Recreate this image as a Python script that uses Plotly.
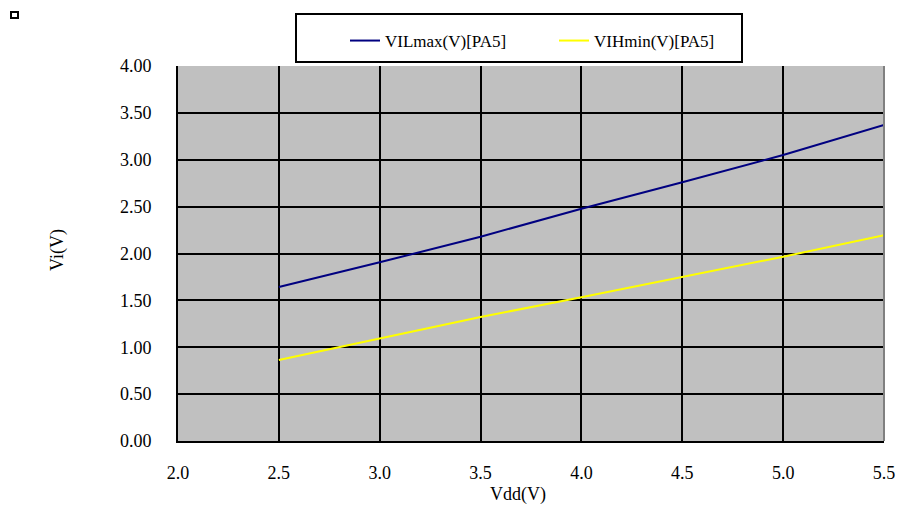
import plotly.graph_objects as go

vdd = [2.5, 3.0, 3.5, 4.0, 4.5, 5.0, 5.5]
vil_max = [1.643, 1.906, 2.179, 2.478, 2.759, 3.051, 3.371]
vih_min = [0.864, 1.095, 1.323, 1.533, 1.746, 1.966, 2.194]

x_ticks = [2.0, 2.5, 3.0, 3.5, 4.0, 4.5, 5.0, 5.5]
y_ticks = [0.0, 0.5, 1.0, 1.5, 2.0, 2.5, 3.0, 3.5, 4.0]

W, H = 898, 507
L, R, T, B = 178, 14, 66, 66
PW, PH = W - L - R, H - T - B


def px(xp):
    return (xp - L) / PW


def py(yp):
    return (H - B - yp) / PH


FONT = "Liberation Serif"

fig = go.Figure()
fig.add_trace(go.Scatter(x=vdd, y=vil_max, mode="lines", name="VILmax(V)[PA5]",
                         line=dict(color="#000080", width=2)))
fig.add_trace(go.Scatter(x=vdd, y=vih_min, mode="lines", name="VIHmin(V)[PA5]",
                         line=dict(color="#ffff00", width=2)))

shapes = [
    # legend frame
    dict(type="rect", xref="paper", yref="paper", x0=px(296), x1=px(742), y0=py(62), y1=py(14),
         line=dict(color="black", width=2), fillcolor="white", layer="below"),
    # small marker square at top-left
    dict(type="rect", xref="paper", yref="paper", x0=px(11), x1=px(18), y0=py(18), y1=py(12),
         line=dict(color="black", width=2), fillcolor="white"),
    # right plot border (gray)
    dict(type="line", xref="paper", yref="paper", x0=1, x1=1, y0=0, y1=1,
         line=dict(color="#808080", width=2)),
]

fig.update_layout(
    width=W, height=H, autosize=False,
    margin=dict(l=L, r=R, t=T, b=B, pad=0, autoexpand=False),
    paper_bgcolor="white",
    plot_bgcolor="#c0c0c0",
    font=dict(family=FONT, size=17, color="black"),
    showlegend=True,
    legend=dict(orientation="h", x=px(345), xanchor="left", y=py(41), yanchor="middle",
                bgcolor="rgba(0,0,0,0)", borderwidth=0, entrywidth=164,
                font=dict(family=FONT, size=17, color="black")),
    shapes=shapes,
    annotations=[
        dict(text="Vdd(V)", xref="paper", yref="paper", x=px(518), y=py(494),
             xanchor="center", yanchor="middle", showarrow=False,
             font=dict(family=FONT, size=18, color="black")),
        dict(text="Vi(V)", xref="paper", yref="paper", x=px(57), y=py(250),
             xanchor="center", yanchor="middle", showarrow=False, textangle=-90,
             font=dict(family=FONT, size=18, color="black")),
    ],
)

fig.update_xaxes(range=[2.0, 5.5], tickvals=x_ticks, tickformat=".1f",
                 showgrid=True, gridcolor="black", gridwidth=2,
                 showline=True, linecolor="black", linewidth=2,
                 zeroline=False, ticks="", ticklabelstandoff=14,
                 ticklabeloverflow="allow", automargin=False,
                 tickfont=dict(family=FONT, size=18, color="black"))
fig.update_yaxes(range=[0.0, 4.0], tickvals=y_ticks, tickformat=".2f",
                 showgrid=True, gridcolor="black", gridwidth=2,
                 showline=True, linecolor="black", linewidth=2,
                 zeroline=False, ticks="", ticklabelstandoff=21, automargin=False,
                 tickfont=dict(family=FONT, size=18, color="black"))

fig.write_html("out.html", config={"displayModeBar": False, "responsive": False},
               post_script="document.body.style.margin='0';")
